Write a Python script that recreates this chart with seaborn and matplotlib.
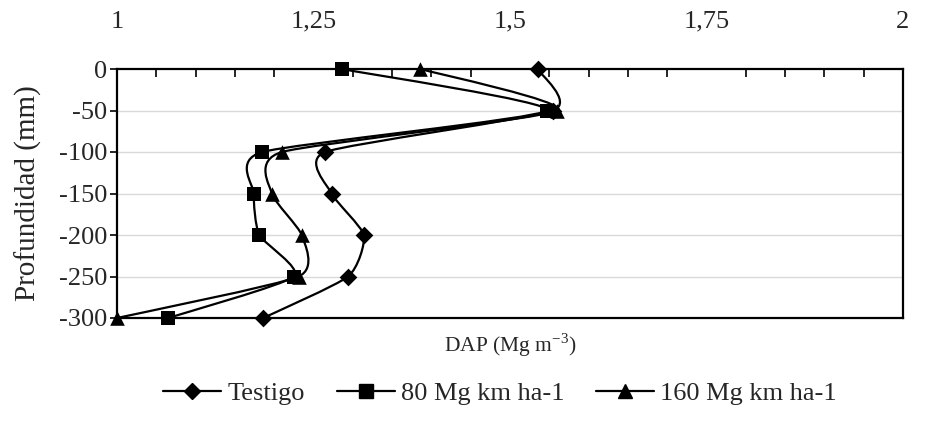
import numpy as np
import pandas as pd
import seaborn as sns
import matplotlib
matplotlib.use("Agg")
import matplotlib.pyplot as plt
from matplotlib.path import Path
from matplotlib.patches import PathPatch
from matplotlib.ticker import FixedLocator, FuncFormatter
from matplotlib.lines import Line2D

depth = [0, -50, -100, -150, -200, -250, -300]
testigo = [1.535, 1.555, 1.265, 1.273, 1.314, 1.294, 1.186]
mg80 = [1.286, 1.547, 1.185, 1.174, 1.181, 1.225, 1.065]
mg160 = [1.386, 1.560, 1.210, 1.197, 1.235, 1.231, 1.000]
series_names = ["Testigo", "80 Mg km ha-1", "160 Mg km ha-1"]
markers = ["D", "s", "^"]
msizes = [9, 10.5, 10.5]
x_ticklabels = ["1", "1,25", "1,5", "1,75", "2"]
y_ticks = [0, -50, -100, -150, -200, -250, -300]

sns.set_theme(style="white")
plt.rcParams["font.family"] = ["Liberation Serif", "DejaVu Serif"]
plt.rcParams["mathtext.fontset"] = "custom"
plt.rcParams["mathtext.rm"] = "Liberation Serif"
plt.rcParams["axes.unicode_minus"] = False

fig = plt.figure(figsize=(9.45, 4.21), dpi=100)
ax = fig.add_axes([117 / 945, 1 - 318 / 421, (903 - 117) / 945, (318 - 69) / 421])

rows = []
for name, vals in zip(series_names, [testigo, mg80, mg160]):
    for d, v in zip(depth, vals):
        rows.append({"serie": name, "DAP": v, "prof": d})
df = pd.DataFrame(rows)


def smooth_path(xs, ys, t=0.1):
    # bezier curve through the data points (Excel-style smoothed line)
    pts = np.column_stack([xs, ys]).astype(float)
    verts = [tuple(pts[0])]
    codes = [Path.MOVETO]
    n = len(pts)
    for i in range(n - 1):
        p0 = pts[i - 1] if i > 0 else pts[i]
        p1 = pts[i]
        p2 = pts[i + 1]
        p3 = pts[i + 2] if i + 2 < n else pts[i + 1]
        c1 = p1 + (p2 - p0) * t
        c2 = p2 - (p3 - p1) * t
        verts += [tuple(c1), tuple(c2), tuple(p2)]
        codes += [Path.CURVE4] * 3
    return Path(verts, codes)


for yt in y_ticks[1:-1]:
    ax.axhline(yt, color="#d9d9d9", lw=1.0, zorder=0)

for name in series_names:
    sub = df[df["serie"] == name]
    xs = sub["DAP"].to_numpy()
    ys = sub["prof"].to_numpy()
    xsc = (xs - 1.0) * 786
    ysc = ys / 300 * 249
    p = smooth_path(xsc, ysc)
    verts = p.vertices.copy()
    verts[:, 0] = verts[:, 0] / 786 + 1.0
    verts[:, 1] = verts[:, 1] / 249 * 300
    ax.add_patch(PathPatch(Path(verts, p.codes), fill=False, ec="black", lw=1.6,
                           zorder=2, clip_on=False))

for name, m, ms in zip(series_names, markers, msizes):
    sub = df[df["serie"] == name]
    sns.scatterplot(data=sub, x="DAP", y="prof", marker=m, s=ms ** 2, color="black",
                    edgecolor="black", linewidth=0, ax=ax, zorder=3, clip_on=False,
                    legend=False)

ax.set_xlim(1, 2)
ax.set_ylim(-300, 0)
ax.xaxis.tick_top()
ax.xaxis.set_major_locator(FixedLocator([1, 1.25, 1.5, 1.75, 2]))
ax.xaxis.set_major_formatter(FuncFormatter(lambda v, p: x_ticklabels[int(round((v - 1) / 0.25))]))
ax.xaxis.set_minor_locator(FixedLocator(np.arange(1.05, 2.0, 0.05)))
ax.tick_params(axis="x", which="major", direction="in", length=0, pad=26, labelsize=19,
               top=True, bottom=False)
ax.tick_params(axis="x", which="minor", direction="in", length=6, width=1.2, top=True,
               bottom=False, color="black")
ax.set_yticks(y_ticks)
ax.tick_params(axis="y", direction="out", length=5, width=1.2, labelsize=19, pad=2,
               left=True, color="black")
for s in ax.spines.values():
    s.set_color("black")
    s.set_linewidth(1.6)

ax.set_xlabel("")
ax.set_ylabel("Profundidad (mm)", fontsize=21)
ax.yaxis.set_label_coords((42 - 117) / 786, 0.5)
fig.text((117 + 903) / 2 / 945, 1 - 345 / 421, r"DAP (Mg m$^{\mathregular{-3}}$)",
         ha="center", va="center", fontsize=15.5)

handles = [Line2D([0], [0], color="black", lw=1.6, marker=m, markersize=ms * 0.95)
           for m, ms in zip(markers, msizes)]
fig.legend(handles, series_names, loc="center", bbox_to_anchor=(500 / 945, 1 - 393 / 421),
           ncol=3, frameon=False, fontsize=19, handlelength=2.2, handletextpad=0.23,
           columnspacing=1.2)

fig.savefig("out.png", dpi=100)
